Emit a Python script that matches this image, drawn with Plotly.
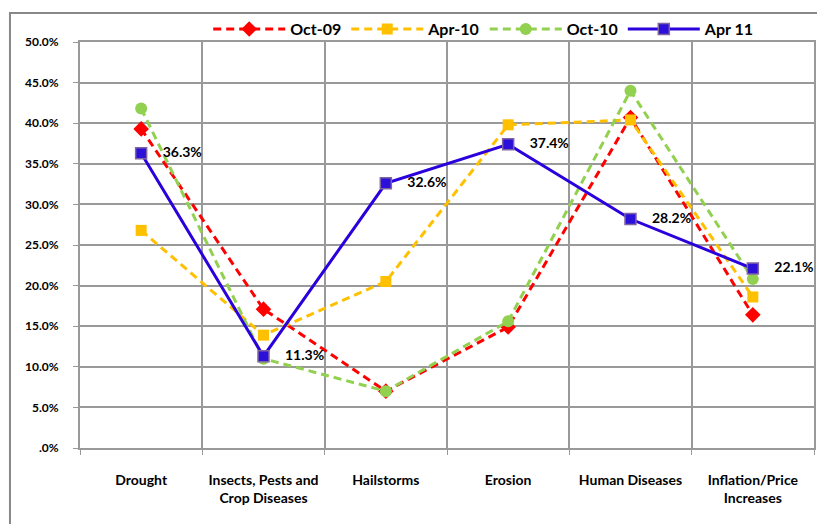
import plotly.graph_objects as go

categories = ["Drought", "Insects, Pests and<br>Crop Diseases", "Hailstorms", "Erosion",
              "Human Diseases", "Inflation/Price<br>Increases"]
oct09 = [0.393, 0.171, 0.070, 0.149, 0.407, 0.164]
apr10 = [0.268, 0.139, 0.205, 0.398, 0.404, 0.186]
oct10 = [0.418, 0.110, 0.070, 0.156, 0.440, 0.208]
apr11 = [0.363, 0.113, 0.326, 0.374, 0.282, 0.221]
apr11_labels = ["36.3%", "11.3%", "32.6%", "37.4%", "28.2%", "22.1%"]
y_ticks = [0, 0.05, 0.10, 0.15, 0.20, 0.25, 0.30, 0.35, 0.40, 0.45, 0.50]
y_tick_text = [".0%", "5.0%", "10.0%", "15.0%", "20.0%", "25.0%", "30.0%", "35.0%",
               "40.0%", "45.0%", "50.0%"]

xpos = list(range(len(categories)))
FONT = "Lato"
dash = "8px,5px"

fig = go.Figure()
fig.add_trace(go.Scatter(x=xpos, y=oct09, name="<b>Oct-09</b>", mode="lines+markers",
                         line=dict(color="#FF0000", width=3, dash=dash),
                         marker=dict(symbol="diamond", size=12, color="#FF0000")))
fig.add_trace(go.Scatter(x=xpos, y=apr10, name="<b>Apr-10</b>", mode="lines+markers",
                         line=dict(color="#FFC000", width=3, dash=dash),
                         marker=dict(symbol="square", size=11, color="#FFC000")))
fig.add_trace(go.Scatter(x=xpos, y=oct10, name="<b>Oct-10</b>", mode="lines+markers",
                         line=dict(color="#92D050", width=3, dash=dash),
                         marker=dict(symbol="circle", size=12, color="#92D050")))
fig.add_trace(go.Scatter(x=xpos, y=apr11, name="<b>Apr 11</b>", mode="lines+markers+text",
                         line=dict(color="#2A00DC", width=3),
                         marker=dict(symbol="square", size=11, color="#2A10D8",
                                     line=dict(color="#8064A2", width=1.5)),
                         text=["<b>    " + t + "</b>" for t in apr11_labels],
                         textposition="middle right",
                         textfont=dict(family=FONT, size=14, color="#000000")))

fig.update_layout(
    width=817, height=516,
    margin=dict(l=72, r=11, t=34, b=76, autoexpand=False),
    paper_bgcolor="white", plot_bgcolor="white",
    font=dict(family=FONT, color="#000000"),
    legend=dict(orientation="h", x=0.55, xanchor="center", y=0.99, yanchor="bottom",
                font=dict(family=FONT, size=16), bgcolor="rgba(0,0,0,0)",
                itemwidth=72),
    showlegend=True,
)
fig.update_xaxes(
    range=[-0.5, len(categories) - 0.5], automargin=False,
    tickmode="array", tickvals=xpos, ticktext=["<b>" + c + "</b>" for c in categories],
    tickfont=dict(family=FONT, size=14),
    ticks="", showgrid=False, zeroline=False,
    showline=True, linecolor="#999999", linewidth=2, mirror=True,
    ticklabelstandoff=18,
    minor=dict(tick0=0.5, dtick=1, showgrid=True, gridcolor="#999999", gridwidth=2,
               ticks="outside", ticklen=5, tickcolor="#999999"),
)
fig.update_yaxes(
    range=[0, 0.5], tickmode="array", tickvals=y_ticks, automargin=False,
    ticktext=["<b>" + t + "</b>" for t in y_tick_text],
    tickfont=dict(family=FONT, size=12),
    showgrid=True, gridcolor="#999999", gridwidth=2, zeroline=False,
    showline=True, linecolor="#999999", linewidth=2, mirror=True,
    ticks="outside", ticklen=5, tickcolor="#999999", ticklabelstandoff=12,
)
fig.add_shape(type="rect", xref="paper", yref="paper",
              x0=-0.0954, x1=1.2, y0=-0.4, y1=1.0714,
              line=dict(color="#888888", width=2), fillcolor="rgba(0,0,0,0)", layer="below")

fig.write_html("out.html")
